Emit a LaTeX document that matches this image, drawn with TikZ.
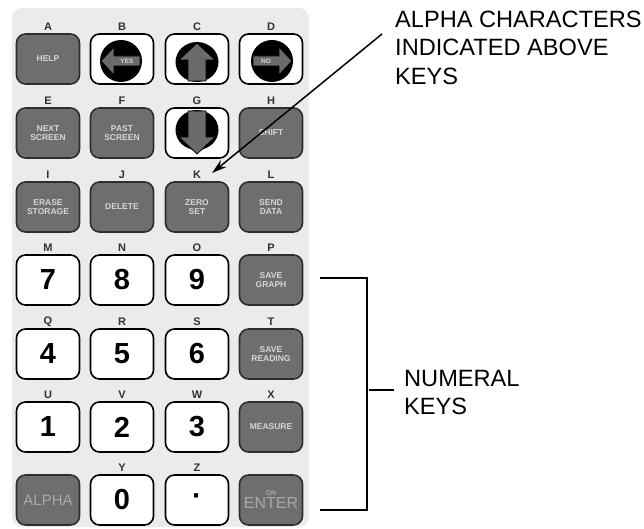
\documentclass[tikz,border=0pt]{standalone}
\usepackage{fontspec}
\setmainfont{Liberation Sans}
\usetikzlibrary{arrows.meta}
\definecolor{bgpad}{HTML}{EBEBEB}
\definecolor{keyg}{HTML}{6E6E6E}
\definecolor{keyedge}{HTML}{2E2E2E}
\definecolor{keytxt}{HTML}{D6D6D6}
\definecolor{keytxtdim}{HTML}{A8A8A8}
\definecolor{arrg}{HTML}{6A6A6A}
\begin{document}
\begin{tikzpicture}[x=1pt,y=-1pt,
  key/.style={rounded corners=9pt, minimum width=63pt, minimum height=50pt, inner sep=0pt, line width=1.6pt},
  numkey/.style={key, draw=black, fill=white, font=\fontsize{29}{29}\selectfont\bfseries},
  darkkey/.style={key, draw=keyedge, fill=keyg, text=keytxt, font=\fontsize{8.5}{9.5}\selectfont\bfseries, align=center},
  arrkey/.style={key, draw=black, fill=white},
  lbl/.style={font=\fontsize{11}{11}\selectfont\bfseries, text=black!80, inner sep=0pt},
  callout/.style={font=\fontsize{23.6}{28.5}\selectfont, align=left, inner sep=0pt, anchor=north west},
  arrowfill/.style={fill=arrg, draw=black, line width=0.8pt, line join=round},
  disc/.style={fill=black},
  leader/.style={line width=1.5pt}]
\useasboundingbox (0,0) rectangle (644,529);
% keypad background
\fill[bgpad, rounded corners=10pt] (12,8) rectangle (309,527);

% ---- row 1
\node[darkkey] (kA) at (48,59) {HELP};
\node[arrkey] (kB) at (122,59) {};
\node[arrkey] (kC) at (197,59) {};
\node[arrkey] (kD) at (271,59) {};
% ---- row 2
\node[darkkey] (kE) at (48,133) {NEXT\\SCREEN};
\node[darkkey] (kF) at (122,133) {PAST\\SCREEN};
\node[arrkey] (kG) at (197,133) {};
\node[darkkey] (kH) at (271,133) {SHIFT};
% ---- row 3
\node[darkkey] (kI) at (48,207) {ERASE\\STORAGE};
\node[darkkey] (kJ) at (122,207) {DELETE};
\node[darkkey] (kK) at (197,207) {ZERO\\SET};
\node[darkkey] (kL) at (271,207) {SEND\\DATA};
% ---- row 4
\node[numkey] (kM) at (48,280) {7};
\node[numkey] (kN) at (122,280) {8};
\node[numkey] (kO) at (197,280) {9};
\node[darkkey] (kP) at (271,280) {SAVE\\GRAPH};
% ---- row 5
\node[numkey] (kQ) at (48,354) {4};
\node[numkey] (kR) at (122,354) {5};
\node[numkey] (kS) at (197,354) {6};
\node[darkkey] (kT) at (271,354) {SAVE\\READING};
% ---- row 6
\node[numkey] (kU) at (48,427) {1};
\node[numkey] (kV) at (122,427) {2};
\node[numkey] (kW) at (197,427) {3};
\node[darkkey] (kX) at (271,427) {MEASURE};
% ---- row 7
\node[darkkey, text=keytxtdim, font=\fontsize{15}{15}\selectfont] (kAlpha) at (48,500) {ALPHA};
\node[numkey] (kY) at (122,500) {0};
\node[numkey] (kZ) at (197,500) {·};
\node[darkkey, text=keytxtdim] (kEnter) at (271,500) {{\fontsize{7}{8}\selectfont\bfseries ON}\\[1pt]{\fontsize{16}{16}\selectfont\mdseries ENTER}};

% arrow key graphics
% left arrow (YES)
\begin{scope}[shift={(kB.center)}]
  \fill[disc] (-1,2) ellipse [x radius=21pt, y radius=21pt];
  \filldraw[arrowfill] (-21,2) -- (-8,-12) -- (-8,-3) -- (18,-3) -- (18,7) -- (-8,7) -- (-8,16) -- cycle;
  \node[text=keytxt, font=\fontsize{6.5}{6.5}\selectfont\bfseries, inner sep=0pt] (yesT) at (5,2) {YES};
\end{scope}
% up arrow
\begin{scope}[shift={(kC.center)}]
  \fill[disc] (0,3) ellipse [x radius=21.5pt, y radius=20pt];
  \filldraw[arrowfill] (0,-16) -- (18,1) -- (9,1) -- (9,22) -- (-9,22) -- (-9,1) -- (-18,1) -- cycle;
\end{scope}
% right arrow (NO)
\begin{scope}[shift={(kD.center)}]
  \fill[disc] (1,2) ellipse [x radius=21pt, y radius=21pt];
  \filldraw[arrowfill] (21,2) -- (8,-12) -- (8,-3) -- (-18,-3) -- (-18,7) -- (8,7) -- (8,16) -- cycle;
  \node[text=keytxt, font=\fontsize{6.5}{6.5}\selectfont\bfseries, inner sep=0pt] (noT) at (-5,2) {NO};
\end{scope}
% down arrow
\begin{scope}[shift={(kG.center)}]
  \fill[disc] (0,-3) ellipse [x radius=21.5pt, y radius=20pt];
  \filldraw[arrowfill] (0,21) -- (18,4) -- (9,4) -- (9,-22) -- (-9,-22) -- (-9,4) -- (-18,4) -- cycle;
\end{scope}

% letters above keys
\foreach \k in {A,B,C,D,E,F,G,H,I,J,K,L,M,N,O,P,Q,R,S,T,U,V,W,X,Y,Z}
  \node[lbl] (l\k) at ([yshift=6.5pt]k\k.north) {\k};

% callout: alpha characters
\node[callout] (alphaT) at (395,10.5) {ALPHA CHARACTERS\\INDICATED ABOVE\\KEYS};
\coordinate (arrStart) at (382,34);
\coordinate (arrEnd) at (212,173);
\draw[leader, -{Stealth[length=15pt,width=9pt]}] (arrStart) -- (arrEnd);

% callout: numeral keys bracket
\coordinate (brTop) at (367,278);
\coordinate (brBot) at (367,510);
\coordinate (brTopL) at (320,278);
\coordinate (brBotL) at (320,510);
\coordinate (brMid) at (369,390);
\coordinate (brMidR) at (394,390);
\draw[leader] (brTopL) -- (brTop) -- (brBot) -- (brBotL);
\draw[leader] (brMid) -- (brMidR);
\node[callout] (numT) at (404,370) {NUMERAL\\KEYS};
\end{tikzpicture}
\end{document}
